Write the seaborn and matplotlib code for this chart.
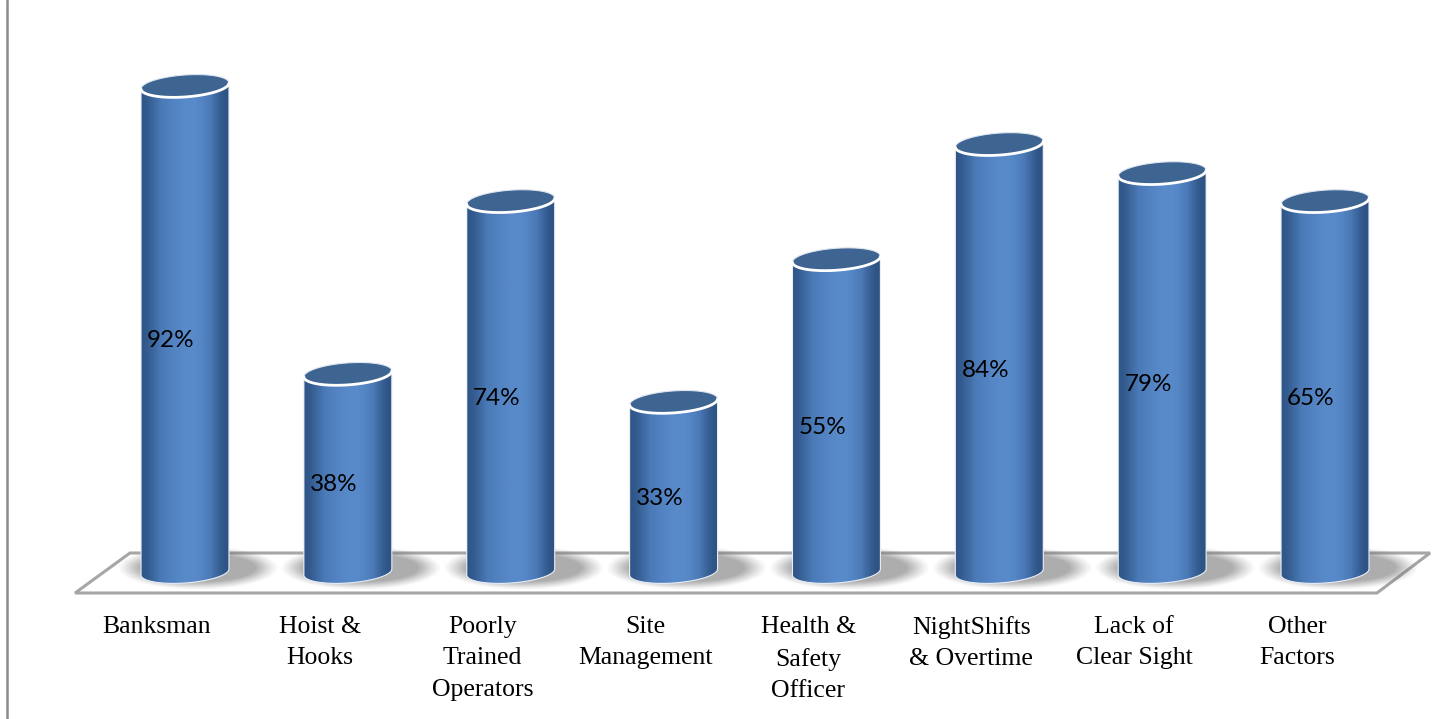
import numpy as np
import pandas as pd
import seaborn as sns
import matplotlib
matplotlib.use("Agg")
import matplotlib.pyplot as plt
from matplotlib.patches import Polygon
from matplotlib.colors import LinearSegmentedColormap

# ---------------- data ----------------
categories = ["Banksman", "Hoist &\nHooks", "Poorly\nTrained\nOperators", "Site\nManagement",
              "Health &\nSafety\nOfficer", "NightShifts\n& Overtime", "Lack of\nClear Sight",
              "Other\nFactors"]
value_labels = ["92%", "38%", "74%", "33%", "55%", "84%", "79%", "65%"]
# drawn cylinder heights as they appear in the picture (percent scale)
bar_heights = [92.0, 37.5, 70.2, 32.2, 59.2, 81.0, 75.5, 70.2]

# ---------------- figure ----------------
sns.set_theme(style="white")
W, H = 1434, 719
fig = plt.figure(figsize=(W / 100, H / 100), dpi=100)
ax = fig.add_axes([0, 0, 1, 1])

px_x = 162.86          # pixels per category step
px_y = 5.283           # pixels per percent
x0_px, base_px = 185, 572
xlim = (-x0_px / px_x, (W - x0_px) / px_x)
ylim = ((base_px - H) / px_y, base_px / px_y)

df = pd.DataFrame({"cat": categories, "h": bar_heights})
sns.barplot(data=df, x="cat", y="h", width=0.54, color="#4F81BD", ax=ax, zorder=3)
bars = list(ax.patches)

# floor (parallelogram)
n = len(categories)
yf_front, yf_back = -21 / px_y, 19 / px_y
floor = Polygon([(-0.675, yf_front), (-0.338, yf_back), (n - 1 + 0.645, yf_back),
                 (n - 1 + 0.319, yf_front)], closed=True, facecolor="white",
                edgecolor="#A6A6A6", lw=2.2, zorder=1)
ax.add_patch(floor)

b = 11 / px_y      # ellipse semi-minor (y units)
k = 3 / px_y       # tilt amplitude
grad = np.array([[0.05, 0.3, 0.55, 0.75, 0.88, 1.0, 0.92, 0.65, 0.3, 0.0]])
cmap = LinearSegmentedColormap.from_list("cyl", ["#2D5283", "#4A79B6", "#5A8BCB"])

for i, p in enumerate(bars):
    cx = p.get_x() + p.get_width() / 2
    a = p.get_width() / 2
    h = p.get_height()
    p.set_visible(False)

    # shadow
    for s, al in zip(np.linspace(1.0, 0.4, 10), np.linspace(0.04, 0.11, 10)):
        t = np.linspace(0, 2 * np.pi, 100)
        sx = cx + 0.08 + a * (1.0 + 0.8 * s) * np.cos(t)
        sy = 0.8 + (b * 1.4) * (0.6 + 0.8 * s) * np.sin(t)
        ax.fill(sx, sy, color="#6E6E6E", alpha=al, lw=0, zorder=2)

    # body path
    t_bot = np.linspace(np.pi, 2 * np.pi, 60)
    t_top = np.linspace(0, -np.pi, 60)
    xs = [cx - a] + list(cx + a * np.cos(t_bot)) + [cx + a] + list(cx + a * np.cos(t_top))
    ys = [h - k] + list(b * np.sin(t_bot) + k * np.cos(t_bot)) + [h + k] + \
         list(h + b * np.sin(t_top) + k * np.cos(t_top))
    body = Polygon(np.column_stack([xs, ys]), closed=True, facecolor="none",
                   edgecolor="#E8EEF6", lw=0.8, zorder=4)
    ax.add_patch(body)
    im = ax.imshow(grad, cmap=cmap, aspect="auto", extent=(cx - a, cx + a, -b - 1, h + b + 1),
                   interpolation="bicubic", zorder=3.5)
    im.set_clip_path(body)

    # top ellipse
    t = np.linspace(0, 2 * np.pi, 120)
    ex = cx + a * np.cos(t)
    ey = h + b * np.sin(t) + k * np.cos(t)
    ax.fill(ex, ey, color="#3E6491", lw=0, zorder=5)
    ax.plot(ex, ey, color="#DDE6F0", lw=0.8, zorder=5)
    tf = np.linspace(np.pi, 2 * np.pi, 60)
    ax.plot(cx + a * np.cos(tf), h + b * np.sin(tf) + k * np.cos(tf), color="white", lw=2.0,
            zorder=6, solid_capstyle="round")

    # value label
    ax.text(cx - 14 / px_x, h / 2 - 12 / px_y, value_labels[i], ha="center", va="center",
            fontsize=17.5, family="Lato", color="black", zorder=7)
    # category label
    ax.text(cx - 28 / px_x, (base_px - 616) / px_y, categories[i], ha="center", va="top",
            fontsize=18.5, family="Liberation Serif", color="black", linespacing=1.55, zorder=7)

ax.set_xlim(*xlim)
ax.set_ylim(*ylim)
ax.axis("off")

# left frame line
fig.add_artist(plt.Line2D([7 / W, 7 / W], [0, 1], color="#8C8C8C", lw=1.8, transform=fig.transFigure))

fig.savefig("out.png", dpi=100, facecolor="white")
